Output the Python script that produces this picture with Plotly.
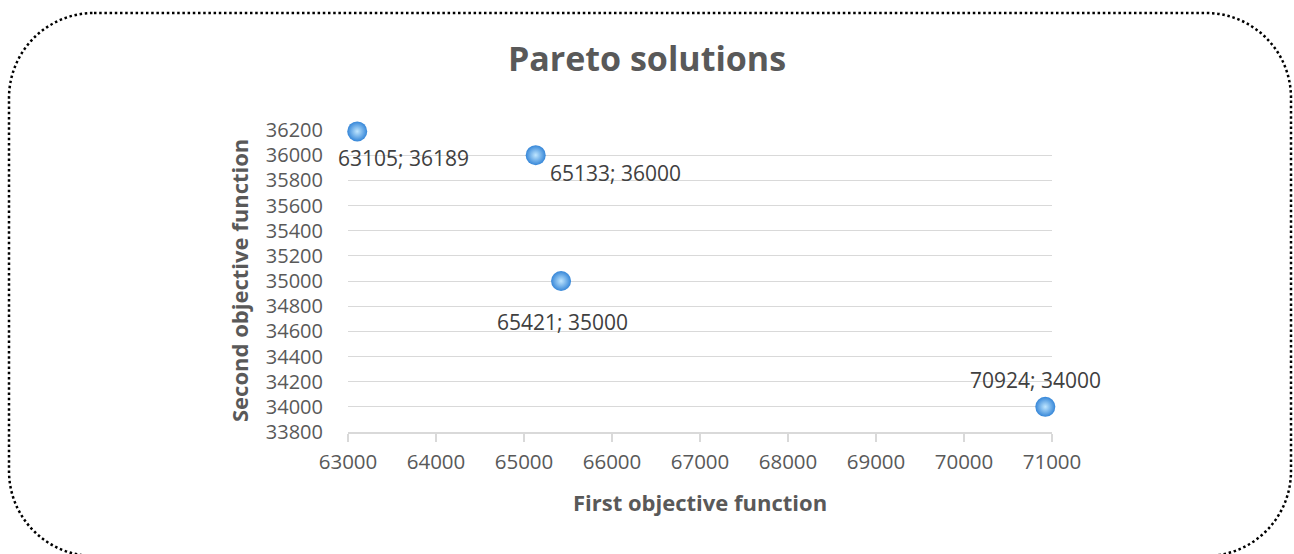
import plotly.graph_objects as go

# Pareto front: (first objective, second objective)
first_objective = [63105, 65133, 65421, 70924]
second_objective = [36189, 36000, 35000, 34000]
point_labels = ["63105; 36189", "65133; 36000", "65421; 35000", "70924; 34000"]

x_ticks = [63000, 64000, 65000, 66000, 67000, 68000, 69000, 70000, 71000]
y_ticks = [33800, 34000, 34200, 34400, 34600, 34800, 35000, 35200, 35400,
           35600, 35800, 36000, 36200]

# label offsets (pixels) relative to each point
label_dx = [46, 80, 1, -10]
label_dy = [-27, -18, -41, 27]

W, H = 1294, 554
L, R, T, B = 348, 1052, 130, 432
FONT = "Open Sans"

fig = go.Figure()
fig.add_trace(go.Scatter(
    x=first_objective, y=second_objective, mode="markers",
    marker=dict(size=20, color="#3586d8",
                gradient=dict(type="radial", color="#bfe6ff"),
                line=dict(width=0)),
    hoverinfo="x+y", showlegend=False, cliponaxis=False,
))

annotations = []
for x, y, t, dx, dy in zip(first_objective, second_objective, point_labels, label_dx, label_dy):
    annotations.append(dict(x=x, y=y, xref="x", yref="y", text=t, showarrow=False,
                            xshift=dx, yshift=dy,
                            font=dict(family=FONT, size=21, color="#404040")))

annotations.append(dict(x=0.5, y=0, xref="paper", yref="paper", text="<b>First objective function</b>",
                        showarrow=False, yshift=-70, yanchor="middle",
                        font=dict(family=FONT, size=22, color="#595959")))
annotations.append(dict(x=0, y=0.5, xref="paper", yref="paper", text="<b>Second objective function</b>",
                        showarrow=False, xshift=-109, xanchor="center", yanchor="middle",
                        textangle=-90, font=dict(family=FONT, size=22, color="#595959")))


# dotted rounded frame around the whole chart, in paper coordinates
def px_x(p):
    return (p - L) / (R - L)


def px_y(p):
    return (B - p) / (B - T)


x0, x1, y0, y1, r = 9, 1291, 13, 556, 85
k = 0.5523 * r
pts = [
    ("M", [(x0 + r, y0)]),
    ("L", [(x1 - r, y0)]),
    ("C", [(x1 - r + k, y0), (x1, y0 + r - k), (x1, y0 + r)]),
    ("L", [(x1, y1 - r)]),
    ("C", [(x1, y1 - r + k), (x1 - r + k, y1), (x1 - r, y1)]),
    ("L", [(x0 + r, y1)]),
    ("C", [(x0 + r - k, y1), (x0, y1 - r + k), (x0, y1 - r)]),
    ("L", [(x0, y0 + r)]),
    ("C", [(x0, y0 + r - k), (x0 + r - k, y0), (x0 + r, y0)]),
]
path = " ".join(cmd + " " + " ".join(f"{px_x(a):.5f},{px_y(b):.5f}" for a, b in p) for cmd, p in pts) + " Z"

fig.update_layout(
    width=W, height=H,
    margin=dict(l=L, r=W - R, t=T, b=H - B),
    paper_bgcolor="white", plot_bgcolor="white",
    title=dict(text="<b>Pareto solutions</b>", x=0.5, xanchor="center",
               y=1 - 59 / H, yanchor="middle", yref="container",
               font=dict(family=FONT, size=34, color="#595959")),
    xaxis=dict(range=[63000, 71000], tickvals=x_ticks, tickformat="d",
               showgrid=False, zeroline=False,
               showline=True, linecolor="#d9d9d9", linewidth=1.5,
               ticks="outside", ticklen=8, tickcolor="#d9d9d9", tickwidth=1.5,
               ticklabelstandoff=3,
               tickfont=dict(family=FONT, size=20.5, color="#595959")),
    yaxis=dict(range=[33800, 36200], tickvals=y_ticks, tickformat="d",
               showgrid=True, gridcolor="#d9d9d9",
               gridwidth=1, zeroline=False, showline=False,
               ticks="outside", ticklen=20, tickcolor="rgba(0,0,0,0)",
               tickfont=dict(family=FONT, size=20, color="#595959")),
    annotations=annotations,
    shapes=[dict(type="path", path=path, xref="paper", yref="paper",
                 line=dict(color="black", width=2.5, dash="2.5px,2.7px"),
                 layer="above")],
    font=dict(family=FONT),
)

fig.write_html("out.html")
